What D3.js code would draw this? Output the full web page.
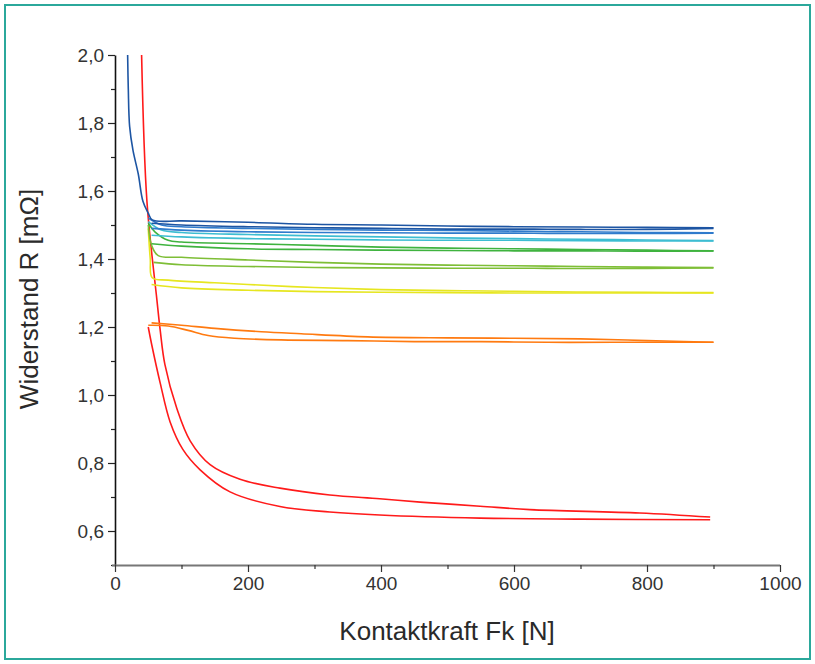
<!DOCTYPE html>
<html><head><meta charset="utf-8">
<script src="https://cdn.jsdelivr.net/npm/d3@7"></script>
<style>body{margin:0;background:#fff}svg{display:block}</style>
</head><body>
<svg id="c" width="815" height="664"></svg>
<script>
// ---- data (force F in N, resistance R in mOhm) ----
const xTicks = [0, 200, 400, 600, 800, 1000];
const yTicks = [0.6, 0.8, 1.0, 1.2, 1.4, 1.6, 1.8, 2.0];
const xLabel = "Kontaktkraft Fk [N]";
const yLabel = "Widerstand R [mΩ]";

const darkBlueUp = [[19,2.0],[20,1.9],[22,1.79],[27,1.72],[35,1.65],[42,1.57],[50,1.535],[56,1.515],[100,1.512],[200,1.508],[300,1.502],[400,1.5],[500,1.497],[600,1.495],[700,1.494],[800,1.493],[900,1.492]];
const darkBlueDown = [[55,1.505],[100,1.5],[200,1.495],[300,1.492],[400,1.49],[500,1.488],[600,1.488],[700,1.487],[800,1.487],[900,1.49]];
const blueUp = [[50,1.52],[70,1.5],[100,1.495],[200,1.49],[300,1.487],[400,1.485],[500,1.484],[600,1.482],[700,1.48],[800,1.478],[900,1.477]];
const blueDown = [[55,1.49],[100,1.485],[200,1.48],[300,1.478],[400,1.477],[500,1.476],[600,1.476],[700,1.475],[800,1.475],[900,1.476]];
const cyanUp = [[50,1.51],[70,1.485],[100,1.478],[200,1.472],[300,1.468],[400,1.465],[500,1.462],[600,1.46],[700,1.458],[800,1.456],[900,1.454]];
const cyanDown = [[55,1.47],[100,1.465],[200,1.46],[300,1.458],[400,1.456],[500,1.455],[600,1.455],[700,1.454],[800,1.453],[900,1.453]];
const greenUp = [[50,1.505],[60,1.48],[80,1.455],[100,1.45],[200,1.445],[300,1.44],[400,1.435],[500,1.432],[600,1.43],[700,1.428],[800,1.426],[900,1.424]];
const greenDown = [[55,1.445],[100,1.438],[200,1.43],[300,1.428],[400,1.426],[500,1.425],[600,1.424],[700,1.424],[800,1.423],[900,1.424]];
const ygUp = [[50,1.5],[55,1.44],[65,1.41],[100,1.405],[200,1.397],[300,1.39],[400,1.385],[500,1.382],[600,1.38],[700,1.378],[800,1.376],[900,1.375]];
const ygDown = [[58,1.39],[100,1.383],[200,1.378],[300,1.375],[400,1.374],[500,1.373],[600,1.373],[700,1.372],[800,1.372],[900,1.374]];
const yellowUp = [[50,1.49],[53,1.4],[56,1.345],[80,1.338],[150,1.33],[200,1.325],[300,1.316],[400,1.31],[500,1.307],[600,1.305],[700,1.303],[800,1.302],[900,1.301]];
const yellowDown = [[55,1.325],[100,1.315],[200,1.308],[300,1.304],[400,1.302],[500,1.301],[600,1.3],[700,1.3],[800,1.3],[900,1.3]];
const orangeUp = [[55,1.212],[100,1.205],[150,1.196],[220,1.186],[280,1.18],[380,1.171],[500,1.168],[600,1.167],[700,1.165],[800,1.16],[900,1.155]];
const orangeDown = [[50,1.205],[80,1.203],[110,1.19],[140,1.175],[180,1.167],[250,1.162],[350,1.16],[450,1.157],[550,1.157],[650,1.155],[750,1.155],[900,1.155]];
const redUp = [[40,2.0],[48,1.57],[63,1.28],[68,1.19],[75,1.09],[93,0.96],[113,0.865],[143,0.795],[188,0.752],[248,0.726],[323,0.706],[398,0.695],[459,0.685],[549,0.673],[624,0.663],[789,0.653],[895,0.641]];
const redDown = [[50,1.2],[55,1.15],[68,1.035],[83,0.92],[102,0.84],[128,0.78],[173,0.715],[248,0.672],[323,0.656],[398,0.647],[549,0.638],[700,0.635],[895,0.633]];

const curves = [
  {d: redDown, c: "#ff1a1a"}, {d: redUp, c: "#ff1a1a"},
  {d: orangeDown, c: "#ff7a10"}, {d: orangeUp, c: "#ff7a10"},
  {d: yellowDown, c: "#e6e620"}, {d: yellowUp, c: "#e6e620"},
  {d: ygDown, c: "#7ebe36"}, {d: ygUp, c: "#7ebe36"},
  {d: greenDown, c: "#3fb33f"}, {d: greenUp, c: "#3fb33f"},
  {d: cyanDown, c: "#3dbdd2"}, {d: cyanUp, c: "#3dbdd2"},
  {d: blueDown, c: "#2f7bcc"}, {d: blueUp, c: "#2f7bcc"},
  {d: darkBlueDown, c: "#1d55a3"}, {d: darkBlueUp, c: "#1d55a3"}
];

const svg = d3.select("#c");
svg.append("rect").attr("x",5).attr("y",5).attr("width",805).attr("height",654)
  .attr("fill","none").attr("stroke","#2ba89b").attr("stroke-width",2);

const x = d3.scaleLinear().domain([0,1000]).range([115,780]);
const y = d3.scaleLinear().domain([0.5,2.0]).range([565,55]);
const fmt = d => d3.format(".1f")(d).replace(".", ",");

const line = d3.line().x(d=>x(d[0])).y(d=>y(d[1])).curve(d3.curveCatmullRom.alpha(0.5));
const g = svg.append("g");
curves.forEach(s => {
  g.append("path").datum(s.d).attr("d", line).attr("fill","none")
   .attr("stroke", s.c).attr("stroke-width",1.6);
});

// y axis
const ya = svg.append("g").attr("transform","translate(115,0)");
ya.call(d3.axisLeft(y).tickValues(yTicks).tickFormat(fmt).tickSize(7).tickSizeOuter(0));
ya.append("g").call(d3.axisLeft(y).tickValues(d3.range(0.5,2.0,0.2).map(v=>+v.toFixed(1))).tickFormat("").tickSize(4).tickSizeOuter(0))
  .select(".domain").remove();
ya.select(".domain").attr("stroke","#111").attr("stroke-width",1.6);
ya.selectAll(".tick line").attr("stroke","#222").attr("stroke-width",1.2);
ya.selectAll("text").attr("font-family","Liberation Sans, Arial, sans-serif").attr("font-size",19).attr("fill","#333").attr("x",-11);

// x axis
const xa = svg.append("g").attr("transform","translate(0,565)");
xa.call(d3.axisBottom(x).tickValues(xTicks).tickFormat(d3.format("d")).tickSize(7).tickSizeOuter(0));
xa.append("g").call(d3.axisBottom(x).tickValues(d3.range(100,1000,200)).tickFormat("").tickSize(4).tickSizeOuter(0))
  .select(".domain").remove();
xa.select(".domain").attr("stroke","#777").attr("stroke-width",2).attr("d","M112,0.5H780");
xa.selectAll(".tick line").attr("stroke","#333").attr("stroke-width",1.2);
xa.selectAll("text").attr("font-family","Liberation Sans, Arial, sans-serif").attr("font-size",19).attr("fill","#333").attr("y",12);

// titles
svg.append("text").attr("x",447).attr("y",640).attr("text-anchor","middle")
  .attr("font-family","Liberation Sans, Arial, sans-serif").attr("font-size",26).attr("fill","#2a2a2a").text(xLabel);
svg.append("text").attr("transform","translate(38,299) rotate(-90)").attr("text-anchor","middle")
  .attr("font-family","Liberation Sans, Arial, sans-serif").attr("font-size",26).attr("fill","#2a2a2a").text(yLabel);
</script>
</body></html>
